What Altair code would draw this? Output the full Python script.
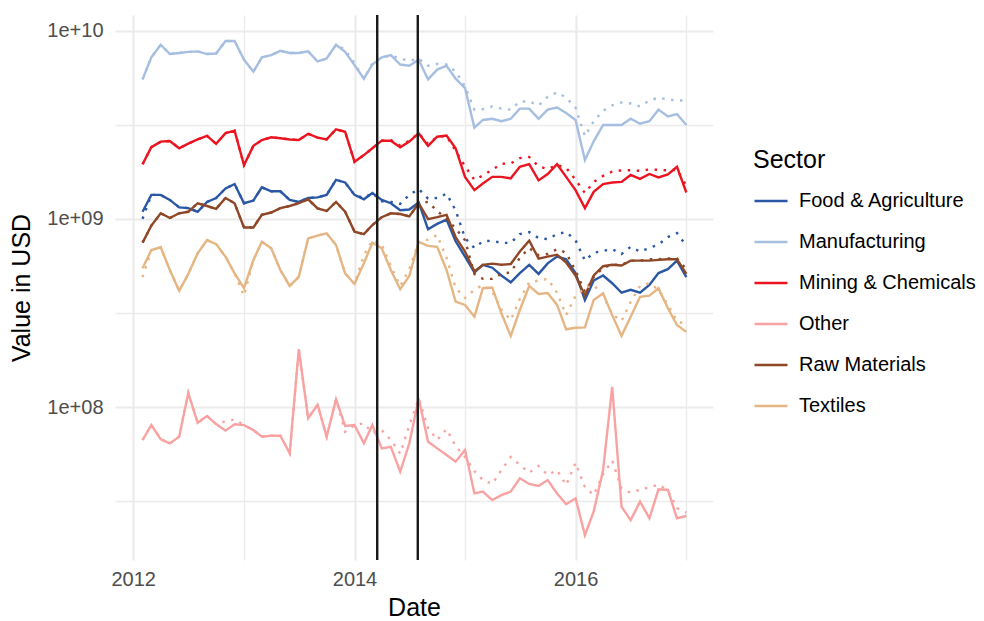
import altair as alt
import pandas as pd

# Monthly export values by sector, in millions of USD (Feb 2012 - Jan 2017)
sectors = ["Food & Agriculture", "Manufacturing", "Mining & Chemicals",
           "Other", "Raw Materials", "Textiles"]
palette = ["#2a58a5", "#a6bee0", "#ea1520", "#f9a2a2", "#8e4827", "#e5b684"]

food_actual = [1090, 1340, 1340, 1260, 1150, 1140, 1090, 1230, 1290, 1450,
               1530, 1210, 1250, 1470, 1400, 1400, 1260, 1230, 1290, 1300,
               1340, 1610, 1560, 1340, 1270, 1370, 1260, 1210, 1110, 1120,
               1220, 880, 940, 990, 760, 630, 520, 570, 550, 500,
               460, 515, 570, 510, 580, 630, 610, 515, 370, 470,
               500, 455, 405, 420, 405, 445, 515, 540, 600, 490]
food_model = [1000, 1340, 1340, 1260, 1150, 1140, 1090, 1230, 1290, 1450,
              1530, 1210, 1250, 1470, 1400, 1400, 1260, 1230, 1290, 1300,
              1340, 1610, 1560, 1340, 1290, 1370, 1240, 1230, 1200, 1340,
              1440, 1280, 1290, 1360, 1110, 790, 700, 760, 765, 745,
              745, 830, 850, 790, 780, 830, 850, 770, 600, 660,
              675, 690, 650, 710, 670, 700, 730, 800, 840, 720]

manuf_actual = [5500, 7200, 8400, 7500, 7600, 7700, 7750, 7500, 7550, 8800,
                8800, 7000, 6050, 7200, 7400, 7800, 7600, 7600, 7750, 6850,
                7100, 8400, 7700, 6550, 5550, 6600, 7200, 7400, 6600, 6500,
                7000, 5500, 6200, 6500, 5550, 4950, 3050, 3350, 3400, 3300,
                3400, 3850, 3850, 3400, 3800, 3900, 3650, 3350, 2050, 2580,
                3150, 3150, 3150, 3400, 3200, 3300, 3800, 3500, 3600, 3150]
manuf_model = [5500, 7200, 8400, 7500, 7600, 7700, 7750, 7500, 7550, 8800,
               8800, 7000, 6050, 7200, 7400, 7800, 7600, 7600, 7750, 6850,
               7100, 8400, 7900, 6700, 5550, 6700, 7200, 7350, 7100, 6900,
               7100, 6500, 6650, 6600, 6050, 5050, 3800, 3820, 3950, 3850,
               3800, 4200, 4200, 4000, 4450, 4700, 4400, 3900, 2750, 3300,
               3750, 4000, 4150, 4100, 3950, 4250, 4400, 4300, 4250, 4250]

mining_actual = [1950, 2400, 2570, 2590, 2370, 2510, 2640, 2760, 2500, 2850,
                 2940, 1930, 2440, 2620, 2710, 2680, 2640, 2620, 2830, 2700,
                 2640, 2990, 2900, 2010, 2180, 2370, 2600, 2600, 2400, 2570,
                 2850, 2440, 2730, 2770, 2370, 1670, 1420, 1540, 1670, 1670,
                 1640, 1890, 1950, 1600, 1730, 1950, 1670, 1420, 1140, 1390,
                 1530, 1560, 1570, 1710, 1630, 1730, 1660, 1720, 1890, 1380]
mining_model = [1950, 2400, 2570, 2590, 2370, 2510, 2640, 2760, 2500, 2850,
                2940, 1930, 2440, 2620, 2710, 2680, 2640, 2620, 2830, 2700,
                2640, 2990, 2900, 2010, 2180, 2370, 2600, 2620, 2450, 2600,
                2850, 2500, 2720, 2750, 2300, 1900, 1610, 1700, 1820, 1960,
                1970, 2100, 2130, 1900, 1840, 1930, 1870, 1610, 1370, 1570,
                1690, 1780, 1810, 1810, 1800, 1830, 1820, 1810, 1820, 1500]

other_actual = [66.9, 80.3, 67.5, 64.2, 69.7, 119, 82.6, 89.7, 81.3, 75,
                81, 80.3, 75.5, 69.7, 70.5, 70.5, 56.9, 203, 87.3, 103,
                69.7, 110, 79.4, 80.3, 64.2, 80.3, 60.4, 61.6, 45.4, 64.2,
                111, 65.5, 60.4, 55.7, 51.3, 59.2, 34.8, 35.6, 32.1, 34.1,
                35.6, 41.9, 39.1, 38.1, 41, 34.8, 30.5, 32.8, 20.9, 27.9,
                46.3, 128, 29.6, 25.1, 31.5, 25.7, 36.6, 36.3, 25.7, 26.4]
other_model = [66.9, 80.3, 67.5, 64.2, 69.7, 119, 82.6, 89.7, 81.3, 84,
               86, 80.3, 75.5, 69.7, 70.5, 70.5, 56.9, 203, 87.3, 103,
               69.7, 110, 74, 80.3, 82, 73, 75.5, 66.9, 56.6, 80,
               111, 77.4, 67, 76.4, 62.1, 54.3, 45.7, 41, 39.1, 46.3,
               54.3, 49.3, 44.9, 48.7, 43.6, 46.3, 38.5, 50.6, 37.6, 34.1,
               44, 52, 37, 35.1, 36.4, 37.5, 38.8, 36.1, 29.1, 27.5]

raw_actual = [747, 920, 1070, 1010, 1070, 1090, 1210, 1170, 1130, 1290,
              1210, 900, 900, 1050, 1080, 1140, 1170, 1210, 1270, 1135,
              1100, 1230, 1090, 855, 830, 927, 1020, 1070, 1060, 1030,
              1210, 995, 1020, 1050, 800, 670, 525, 570, 578, 570,
              575, 670, 765, 615, 630, 645, 585, 500, 390, 500,
              560, 570, 565, 600, 600, 600, 605, 610, 610, 510]
raw_model = [747, 920, 1070, 1010, 1070, 1090, 1210, 1170, 1130, 1290,
             1210, 900, 900, 1050, 1080, 1140, 1170, 1210, 1270, 1135,
             1100, 1230, 1090, 855, 830, 927, 1020, 1070, 1060, 1030,
             1210, 1230, 1100, 1000, 890, 770, 510, 480, 480, 510,
             520, 620, 700, 640, 650, 690, 660, 530, 410, 490,
             550, 570, 570, 600, 600, 610, 610, 615, 615, 540]

textiles_actual = [546, 682, 706, 535, 415, 510, 656, 771, 734, 629,
                   513, 428, 604, 755, 697, 535, 440, 492, 787, 815,
                   837, 726, 513, 451, 581, 747, 697, 535, 423, 497,
                   755, 718, 710, 535, 363, 349, 302, 428, 432, 315,
                   239, 328, 440, 399, 404, 349, 259, 264, 265, 371,
                   402, 308, 239, 302, 385, 391, 428, 335, 273, 251]
textiles_model = [490, 682, 706, 535, 415, 510, 656, 771, 734, 629,
                  513, 390, 604, 755, 697, 535, 440, 492, 787, 815,
                  837, 726, 513, 451, 640, 770, 730, 560, 440, 540,
                  755, 775, 820, 620, 430, 380, 420, 445, 410, 330,
                  290, 375, 460, 470, 480, 405, 308, 390, 430, 445,
                  390, 312, 287, 362, 440, 455, 420, 349, 287, 273]

event_dates = ["2014-03-17", "2014-07-29"]

months = pd.date_range("2012-02-01", periods=60, freq="MS")
series = {
    "Food & Agriculture": (food_actual, food_model),
    "Manufacturing": (manuf_actual, manuf_model),
    "Mining & Chemicals": (mining_actual, mining_model),
    "Other": (other_actual, other_model),
    "Raw Materials": (raw_actual, raw_model),
    "Textiles": (textiles_actual, textiles_model),
}

rows = []
for sector, (actual, model) in series.items():
    for d, a, m in zip(months, actual, model):
        rows.append({"date": d, "Sector": sector, "kind": "actual", "value": a * 1e6})
        rows.append({"date": d, "Sector": sector, "kind": "model", "value": m * 1e6})
df = pd.DataFrame(rows)
events = pd.DataFrame({"date": pd.to_datetime(event_dates)})

font = "Liberation Sans"

x_enc = alt.X(
    "date:T",
    title="Date",
    scale=alt.Scale(domain=[alt.DateTime(year=2011, month=11, date=2),
                            alt.DateTime(year=2017, month=3, date=30)]),
    axis=alt.Axis(
        values=[alt.DateTime(year=y, month=1, date=1) for y in range(2012, 2018)],
        labelExpr="year(datum.value) % 2 == 0 ? timeFormat(datum.value, '%Y') : ''",
        gridWidth={"condition": {"test": "year(datum.value) % 2 == 0", "value": 2.2},
                   "value": 1.4},
        labelOverlap=False,
        labelFlush=False,
    ),
)

major_test = "datum.value == 1e8 || datum.value == 1e9 || datum.value == 1e10"
y_enc = alt.Y(
    "value:Q",
    title="Value in USD",
    scale=alt.Scale(type="log", domain=[1.542e7, 1.209e10], nice=False),
    axis=alt.Axis(
        values=[10 ** 7.5, 1e8, 10 ** 8.5, 1e9, 10 ** 9.5, 1e10],
        labelExpr="datum.value == 1e8 ? '1e+08' : datum.value == 1e9 ? '1e+09' : "
                  "datum.value == 1e10 ? '1e+10' : ''",
        gridWidth={"condition": {"test": major_test, "value": 2.2}, "value": 1.4},
        labelOverlap=False,
    ),
)

color_enc = alt.Color("Sector:N", title="Sector",
                      scale=alt.Scale(domain=sectors, range=palette))

base = alt.Chart(df)
actual_lines = base.transform_filter(alt.datum.kind == "actual").mark_line(
    strokeWidth=2.4
).encode(x=x_enc, y=y_enc, color=color_enc)
model_lines = base.transform_filter(alt.datum.kind == "model").mark_line(
    strokeWidth=2.4, strokeDash=[2.5, 6.5]
).encode(x=x_enc, y=y_enc, color=color_enc)

rules = alt.Chart(events).mark_rule(color="#1a1a1a", strokeWidth=2.4).encode(x="date:T")

chart = alt.layer(actual_lines, model_lines, rules).properties(
    width=598, height=545,
    autosize=alt.AutoSizeParams(type="none"),
    padding={"left": 115, "top": 15, "right": 271, "bottom": 61},
).configure(
    font=font,
    background="white",
).configure_view(
    stroke=None,
).configure_axis(
    domain=False,
    ticks=False,
    gridColor="#ebebeb",
    labelFont=font,
    labelFontSize=20,
    labelColor="#4d4d4d",
    titleFont=font,
    titleFontSize=25,
    titleFontWeight="normal",
    titleColor="#000000",
).configure_axisX(
    labelPadding=9,
    titlePadding=6,
).configure_axisY(
    labelPadding=12,
    titlePadding=12,
).configure_legend(
    orient="none",
    legendX=638,
    legendY=133,
    padding=0,
    titleFont=font,
    titleFontSize=25,
    titleFontWeight="normal",
    titleColor="#000000",
    titlePadding=10,
    labelFont=font,
    labelFontSize=20,
    labelColor="#000000",
    labelOffset=10,
    labelLimit=0,
    symbolType="stroke",
    symbolSize=1089,
    symbolStrokeWidth=2.4,
    symbolDash=[1, 0],
    rowPadding=13,
)

chart.save("out.html", embed_options={"renderer": "svg", "actions": False})
